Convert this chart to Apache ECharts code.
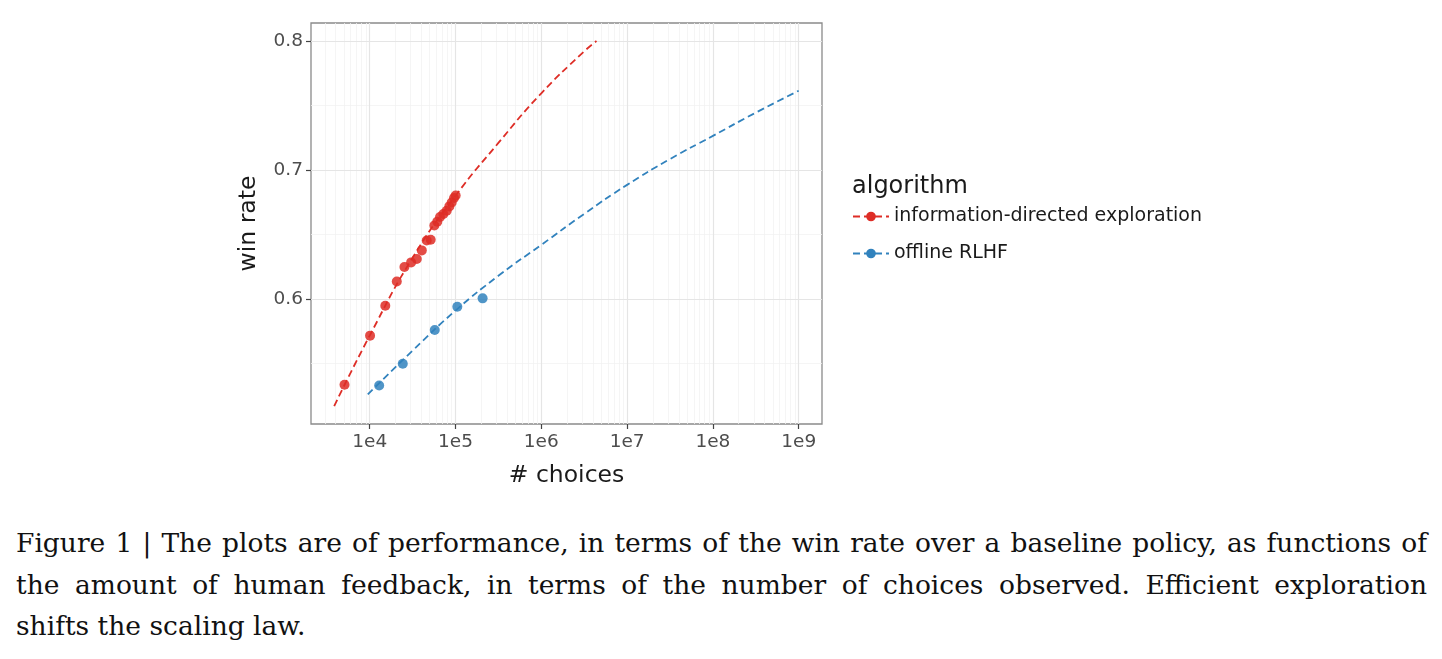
<!DOCTYPE html>
<html>
<head>
<meta charset="utf-8">
<script src="https://cdn.jsdelivr.net/npm/echarts@6/dist/echarts.min.js"></script>
<style>
  html, body { margin: 0; padding: 0; background: #fff; }
  #chart { position: absolute; left: 0; top: 0; width: 1442px; height: 500px; }
  #caption {
    position: absolute; left: 16px; top: 522px; width: 1411px;
    font-family: "DejaVu Serif", serif; font-size: 26.5px; line-height: 41.5px; color: #111;
  }
  #caption .j { text-align: justify; text-align-last: justify; white-space: nowrap; }
</style>
</head>
<body>
<div id="chart"></div>
<div id="caption">
  <div class="j">Figure 1 | The plots are of performance, in terms of the win rate over a baseline policy, as functions of</div>
  <div class="j">the amount of human feedback, in terms of the number of choices observed. Efficient exploration</div>
  <div>shifts the scaling law.</div>
</div>
<script>
// 数据：选择次数与胜率
const seriesNames = ['information-directed exploration', 'offline RLHF'];

const idePoints = [
    [5090, 0.5336], [10100, 0.5716], [15200, 0.5948], [20700, 0.6136], [25400, 0.6248],
    [30400, 0.6284], [35400, 0.6310], [40500, 0.6377], [46200, 0.6454], [51400, 0.6460],
    [56700, 0.6570], [61400, 0.6600], [66000, 0.6636], [72200, 0.6659], [79000, 0.6685],
    [84800, 0.6718], [90300, 0.6749], [96100, 0.6783], [100500, 0.6803]
];
const offlinePoints = [
    [12900, 0.5330], [24300, 0.5498], [57300, 0.5760], [105000, 0.5940], [207000, 0.6005]
];

// 拟合曲线（从图上读取，约每半个数量级一个点）
const ideFit = [
    [3855, 0.517], [10000, 0.5716], [31600, 0.632], [100000, 0.680], [316000, 0.721],
    [1000000, 0.7595], [3160000, 0.792], [4400000, 0.800]
];
const offlineFit = [
    [9500, 0.526], [31600, 0.560], [100000, 0.591], [316000, 0.618], [1000000, 0.642],
    [3160000, 0.666], [10000000, 0.6885], [31600000, 0.7085], [100000000, 0.7265],
    [316000000, 0.7445], [1000000000, 0.7615]
];

const xTicks = [1e4, 1e5, 1e6, 1e7, 1e8, 1e9];
const yTicks = [0.6, 0.7, 0.8];
const yMinor = [0.55, 0.65, 0.75];

const colors = ['#de2d26', '#3182bd'];

const chart = echarts.init(document.getElementById('chart'));

// 网格线（对数次刻度 2..9）
const xMin = 2070, xMax = 1.869e9;
const minorX = [];
for (let e = 3; e <= 9; e++) {
    for (let k = 2; k <= 9; k++) {
        const v = k * Math.pow(10, e);
        if (v > xMin && v < xMax) minorX.push(v);
    }
}
const minorStyle = { color: '#f3f3f3', width: 0.8, type: 'solid' };
const majorStyle = { color: '#e5e5e5', width: 1.2, type: 'solid' };
const gridLines = [];
minorX.forEach(v => gridLines.push({ xAxis: v, lineStyle: minorStyle }));
yMinor.forEach(v => gridLines.push({ yAxis: v, lineStyle: minorStyle }));
xTicks.forEach(v => gridLines.push({ xAxis: v, lineStyle: majorStyle }));
yTicks.forEach(v => gridLines.push({ yAxis: v, lineStyle: majorStyle }));

const sansFont = '"DejaVu Sans", sans-serif';

function fitSeries(name, data, color) {
    return {
        name: name,
        type: 'line',
        data: data,
        smooth: true,
        symbol: 'circle',
        symbolSize: 10,
        showSymbol: false,
        z: 3,
        lineStyle: { color: color, width: 1.8, type: [7, 4] },
        itemStyle: { color: color },
        silent: true
    };
}

function pointSeries(name, data, color) {
    return {
        name: name,
        type: 'scatter',
        data: data,
        symbolSize: 10,
        z: 4,
        itemStyle: { color: color, opacity: 0.85 }
    };
}

const options = {
    animation: false,
    textStyle: { fontFamily: sansFont },
    title: {
        text: 'algorithm',
        left: 852,
        top: 175,
        padding: 0,
        textStyle: { fontFamily: sansFont, fontSize: 24, fontWeight: 'normal', color: '#1a1a1a' }
    },
    legend: {
        orient: 'vertical',
        left: 852,
        top: 207,
        padding: 0,
        itemWidth: 36,
        itemHeight: 12,
        itemGap: 18,
        data: seriesNames,
        textStyle: { fontFamily: sansFont, fontSize: 19, color: '#1a1a1a' }
    },
    grid: {
        left: 311,
        top: 23,
        width: 511,
        height: 401,
        show: true,
        borderColor: '#8a8a8a',
        borderWidth: 1.3,
        containLabel: false
    },
    xAxis: {
        type: 'log',
        min: xMin,
        max: xMax,
        name: '# choices',
        nameLocation: 'middle',
        nameGap: 40,
        nameTextStyle: { fontFamily: sansFont, fontSize: 23.5, color: '#1a1a1a' },
        axisLine: { show: false },
        axisTick: { show: true, customValues: xTicks, length: 5, lineStyle: { color: '#444', width: 1.2 } },
        axisLabel: {
            customValues: xTicks,
            margin: 9,
            fontFamily: sansFont,
            fontSize: 18.5,
            color: '#4d4d4d',
            formatter: v => '1e' + Math.round(Math.log10(v))
        },
        splitLine: { show: false },
        minorSplitLine: { show: false }
    },
    yAxis: {
        type: 'value',
        min: 0.5031,
        max: 0.814,
        name: 'win rate',
        nameLocation: 'middle',
        nameGap: 50,
        nameTextStyle: { fontFamily: sansFont, fontSize: 23.5, color: '#1a1a1a' },
        axisLine: { show: false },
        axisTick: { show: true, customValues: yTicks, length: 5, lineStyle: { color: '#444', width: 1.2 } },
        axisLabel: {
            customValues: yTicks,
            margin: 8,
            fontFamily: sansFont,
            fontSize: 18.5,
            color: '#4d4d4d',
            formatter: v => v.toFixed(1)
        },
        splitLine: { show: false }
    },
    series: [
        {
            name: 'grid',
            type: 'line',
            data: [],
            z: 0,
            silent: true,
            markLine: {
                silent: true,
                z: 0,
                symbol: 'none',
                label: { show: false },
                animation: false,
                data: gridLines
            }
        },
        fitSeries(seriesNames[0], ideFit, colors[0]),
        fitSeries(seriesNames[1], offlineFit, colors[1]),
        pointSeries(seriesNames[0], idePoints, colors[0]),
        pointSeries(seriesNames[1], offlinePoints, colors[1])
    ]
};

chart.setOption(options);
</script>
</body>
</html>
